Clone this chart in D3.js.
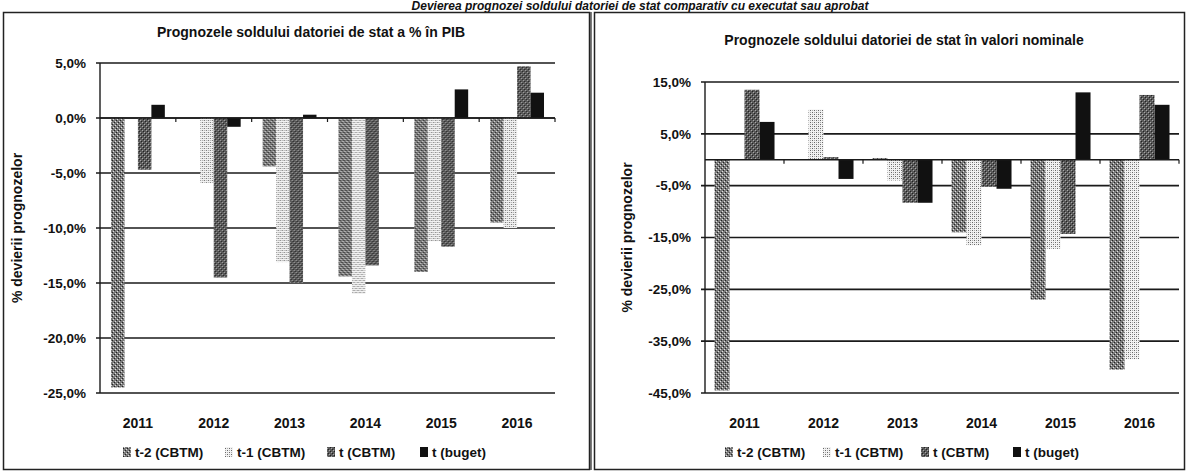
<!DOCTYPE html>
<html lang="ro">
<head>
<meta charset="utf-8">
<title>Prognozele soldului datoriei de stat</title>
<script src="https://d3js.org/d3.v7.min.js"></script>
<style>
  body { margin: 0; background: #fff; }
  svg { display: block; }
  text { font-family: "Liberation Sans", Arial, sans-serif; font-weight: bold; fill: #111; }
</style>
</head>
<body>
<div id="chart"></div>
<script>
// categories and series
var years = ["2011", "2012", "2013", "2014", "2015", "2016"];
var seriesNames = ["t-2 (CBTM)", "t-1 (CBTM)", "t (CBTM)", "t (buget)"];

// left chart: % in PIB
var pibT2    = [-24.5,   0.0,  -4.4, -14.4, -14.0,  -9.5];
var pibT1    = [  0.0,  -5.9, -13.1, -16.0, -11.2, -10.0];
var pibT     = [ -4.7, -14.5, -15.0, -13.4, -11.7,   4.7];
var pibBuget = [  1.2,  -0.8,   0.3,   0.0,   2.6,   2.3];
var pibTicks = [5, 0, -5, -10, -15, -20, -25];

// right chart: nominal values
var nomT2    = [-44.5,   0.0,   0.3, -14.0, -27.0, -40.5];
var nomT1    = [  0.0,   9.7,  -4.0, -16.5, -17.2, -38.5];
var nomT     = [ 13.5,   0.5,  -8.3,  -5.2, -14.3,  12.5];
var nomBuget = [  7.3,  -3.7,  -8.3,  -5.6,  13.0,  10.6];
var nomTicks = [15, 5, -5, -15, -25, -35, -45];

var W = 1186, H = 473;

var svg = d3.select("#chart").append("svg")
  .attr("width", W)
  .attr("height", H);

// grey scan-like fill patterns
var defs = svg.append("defs");
function addPattern(id, bg, dots) {
  var p = defs.append("pattern")
    .attr("id", id)
    .attr("patternUnits", "userSpaceOnUse")
    .attr("width", 4).attr("height", 4);
  p.append("rect").attr("width", 4).attr("height", 4).attr("fill", bg);
  dots.forEach(function(d) {
    p.append("rect").attr("x", d[0]).attr("y", d[1])
      .attr("width", 1).attr("height", 1).attr("fill", d[2]);
  });
}
addPattern("pT2", "#7a7a7a", [[0,0,"#222"],[2,2,"#222"],[1,3,"#e0e0e0"],[3,1,"#e0e0e0"]]);
addPattern("pT1", "#f2f2f2", [[0,0,"#666"],[2,2,"#666"],[2,0,"#aaa"],[0,2,"#aaa"]]);
addPattern("pT",  "#5a5a5a", [[0,0,"#a8a8a8"],[2,2,"#a8a8a8"],[1,1,"#222"],[3,3,"#222"]]);
addPattern("pB",  "#111", []);
var fills = ["url(#pT2)", "url(#pT1)", "url(#pT)", "url(#pB)"];

// top caption (clipped in the scan, kept just above the frames)
svg.append("text")
  .attr("x", 640).attr("y", 10)
  .attr("text-anchor", "middle")
  .style("font-size", "12px")
  .style("font-style", "italic")
  .text("Devierea prognozei soldului datoriei de stat comparativ cu executat sau aprobat");

// panel frames
svg.append("rect").attr("x", 3.5).attr("y", 12.5).attr("width", 586).attr("height", 457)
  .attr("fill", "none").attr("stroke", "#222").attr("stroke-width", 1.5);
svg.append("rect").attr("x", 594.5).attr("y", 12.5).attr("width", 590).attr("height", 457)
  .attr("fill", "none").attr("stroke", "#222").attr("stroke-width", 1.5);
svg.append("line").attr("x1", 591).attr("x2", 591).attr("y1", 12).attr("y2", 470)
  .attr("stroke", "#222").attr("stroke-width", 1.2);

function fmt(d) { return d.toFixed(1).replace(".", ",") + "%"; }

function drawChart(opt) {
  var g = svg.append("g");
  var x0 = d3.scaleBand().domain(years).range([opt.left, opt.right]);
  var bw = x0.bandwidth();
  var x1 = d3.scaleBand().domain(seriesNames)
    .range([bw * (1 - opt.group) / 2, bw * (1 + opt.group) / 2]);
  var y = d3.scaleLinear().domain(opt.domain).range([opt.top, opt.bottom]);

  // title
  g.append("text")
    .attr("x", opt.titleX).attr("y", opt.titleY)
    .attr("text-anchor", "middle")
    .style("font-size", "14px")
    .text(opt.title);

  // gridlines
  g.selectAll(".grid").data(opt.ticks).enter().append("line")
    .attr("x1", opt.left - 4).attr("x2", opt.right)
    .attr("y1", function(d) { return y(d); })
    .attr("y2", function(d) { return y(d); })
    .attr("stroke", "#1a1a1a").attr("stroke-width", 1.6);

  // y tick labels
  g.selectAll(".ylab").data(opt.ticks).enter().append("text")
    .attr("x", opt.left - 14)
    .attr("y", function(d) { return y(d); })
    .attr("dy", "0.35em")
    .attr("text-anchor", "end")
    .style("font-size", "13.5px")
    .text(fmt);

  // y axis line
  g.append("line")
    .attr("x1", opt.left).attr("x2", opt.left)
    .attr("y1", opt.top).attr("y2", opt.bottom)
    .attr("stroke", "#1a1a1a").attr("stroke-width", 1.4);

  // y axis title
  g.append("text")
    .attr("transform", "translate(" + opt.yTitleX + "," + ((opt.top + opt.bottom) / 2) + ") rotate(-90)")
    .attr("text-anchor", "middle")
    .style("font-size", "14px")
    .text("% devierii prognozelor");

  // bars
  var rows = years.map(function(yr, i) {
    return { year: yr, vals: opt.series.map(function(s) { return s[i]; }) };
  });
  var grp = g.selectAll(".yr").data(rows).enter().append("g")
    .attr("transform", function(d) { return "translate(" + x0(d.year) + ",0)"; });
  grp.selectAll("rect")
    .data(function(d) { return d.vals.map(function(v, k) { return { k: k, v: v }; }); })
    .enter().append("rect")
      .attr("x", function(d) { return x1(seriesNames[d.k]); })
      .attr("width", x1.bandwidth())
      .attr("y", function(d) { return y(Math.max(0, d.v)); })
      .attr("height", function(d) { return Math.abs(y(d.v) - y(0)); })
      .attr("fill", function(d) { return fills[d.k]; });

  // category axis at zero
  g.append("line")
    .attr("x1", opt.left).attr("x2", opt.right)
    .attr("y1", y(0)).attr("y2", y(0))
    .attr("stroke", "#1a1a1a").attr("stroke-width", 1.6);
  g.selectAll(".xt").data(years.slice(1).concat(["end"])).enter().append("line")
    .attr("x1", function(d) { return d === "end" ? opt.right : x0(d); })
    .attr("x2", function(d) { return d === "end" ? opt.right : x0(d); })
    .attr("y1", y(0)).attr("y2", y(0) + 4)
    .attr("stroke", "#1a1a1a").attr("stroke-width", 1.2);

  // year labels
  g.selectAll(".xlab").data(years).enter().append("text")
    .attr("x", function(d) { return x0(d) + bw / 2; })
    .attr("y", 428)
    .attr("text-anchor", "middle")
    .style("font-size", "14px")
    .text(function(d) { return d; });

  // legend
  var lg = g.selectAll(".lg").data(seriesNames).enter().append("g")
    .attr("transform", function(d, i) { return "translate(" + opt.legendX[i] + ",452)"; });
  lg.append("rect")
    .attr("x", 0).attr("y", -5).attr("width", 8).attr("height", 10)
    .attr("fill", function(d, i) { return fills[i]; });
  lg.append("text")
    .attr("x", 12).attr("dy", "0.35em")
    .style("font-size", "13.5px")
    .text(function(d) { return d; });
}

drawChart({
  title: "Prognozele soldului datoriei de stat a % în PIB",
  titleX: 311, titleY: 37,
  left: 100, right: 555, top: 63, bottom: 393,
  domain: [5, -25], ticks: pibTicks, group: 0.71,
  yTitleX: 22,
  series: [pibT2, pibT1, pibT, pibBuget],
  legendX: [123, 225, 327, 420]
});

drawChart({
  title: "Prognozele soldului datoriei de stat în valori nominale",
  titleX: 904, titleY: 45,
  left: 705, right: 1179, top: 82, bottom: 393,
  domain: [15, -45], ticks: nomTicks, group: 0.76,
  yTitleX: 632,
  series: [nomT2, nomT1, nomT, nomBuget],
  legendX: [725, 823, 921, 1013]
});
</script>
</body>
</html>
